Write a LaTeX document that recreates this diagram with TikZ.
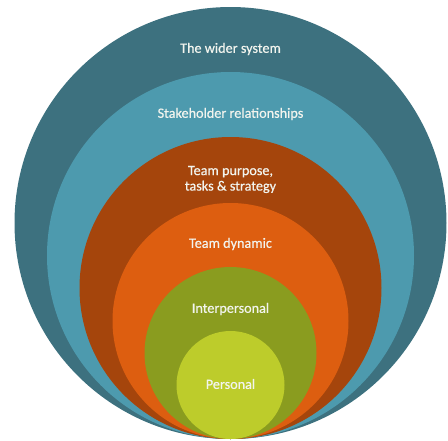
\documentclass[tikz,border=0pt]{standalone}
\usepackage{fontspec}
\setmainfont{Carlito}
% a touch of extra weight for the white labels
\newfontfamily\labelfont[FakeBold=0.5]{Carlito}
\definecolor{ringA}{HTML}{3D717F}
\definecolor{ringB}{HTML}{4D9AAE}
\definecolor{ringC}{HTML}{A5450C}
\definecolor{ringD}{HTML}{DD5E10}
\definecolor{ringE}{HTML}{8A9C1F}
\definecolor{ringF}{HTML}{BDCC2B}
\definecolor{labeltext}{HTML}{F2F4EE}
\begin{document}
\begin{tikzpicture}[x=1pt,y=-1pt,
  ring/.style={fill=#1,draw=none},
  lbl/.style={text=labeltext,font=\labelfont\fontsize{14.2}{15.5}\selectfont,align=center,inner sep=0pt}]
\useasboundingbox (0,0) rectangle (448,440);
% nested circles, all touching at the bottom
\fill[ring=ringA] (230.5,223) circle (216);
\fill[ring=ringB] (230.5,255.5) circle (183.5);
\fill[ring=ringC] (230.5,288) circle (151);
\fill[ring=ringD] (230.5,321) circle (118);
\fill[ring=ringE] (230.5,353) circle (86);
\fill[ring=ringF] (230.5,385) circle (54);
% labels
\node[lbl] (wider) at (230.5,49) {The wider system};
\node[lbl] (stake) at (230.5,114) {Stakeholder relationships};
\node[lbl] (purpose) at (230.5,179.5) {Team purpose,\\tasks \& strategy};
\node[lbl] (dynamic) at (230.5,244) {Team dynamic};
\node[lbl] (inter) at (230.5,309) {Interpersonal};
\node[lbl] (pers) at (230.5,384) {Personal};
\end{tikzpicture}
\end{document}
